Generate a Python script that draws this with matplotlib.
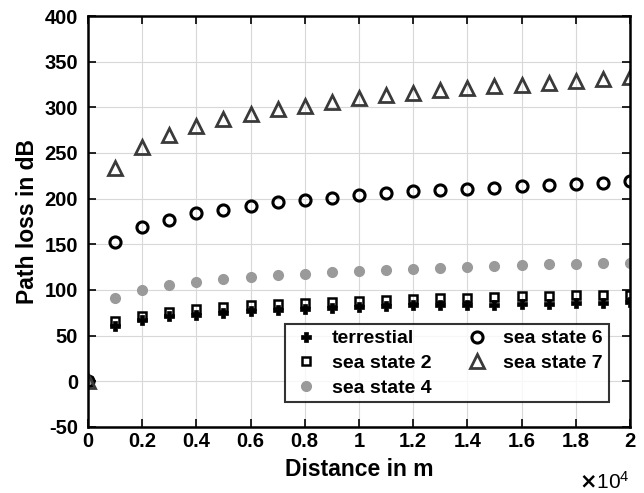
import matplotlib
matplotlib.use("Agg")
import matplotlib.pyplot as plt
from matplotlib.ticker import FuncFormatter
import numpy as np

plt.rcParams["font.family"] = ["Liberation Sans", "DejaVu Sans"]
plt.rcParams["font.weight"] = "bold"
plt.rcParams["axes.unicode_minus"] = False

distance = np.arange(0, 20001, 1000)

terrestial = [0, 61, 67, 71, 73, 75, 77, 78, 79, 80, 81, 82, 83, 83, 84, 84, 85, 85, 86, 86, 87]
sea_state_2 = [0, 66, 72, 76, 79, 81, 83, 85, 86, 87, 88, 89, 90, 91, 91, 92, 93, 93, 94, 94, 95]
sea_state_4 = [0, 91, 100, 105, 109, 112, 114, 116, 118, 120, 121, 122, 123, 124, 125, 126, 127, 128, 128, 129, 130]
sea_state_6 = [0, 153, 169, 177, 184, 188, 192, 196, 199, 201, 204, 206, 208, 209, 211, 212, 214, 215, 216, 217, 219]
sea_state_7 = [0, 234, 257, 270, 280, 287, 293, 298, 302, 306, 310, 313, 316, 319, 321, 323, 325, 327, 329, 331, 333]

fig = plt.figure(figsize=(6.44, 4.93), dpi=100)
ax = fig.add_axes([0.1366, 0.134, 0.8415, 0.8335])

ax.plot(distance, terrestial, ls="none", marker="P", ms=7.5, color="black", mec="black", mew=0.5, label="terrestial")
ax.plot(distance, sea_state_2, ls="none", marker="s", ms=6, mfc="none", mec="black", mew=1.8, label="sea state 2")
ax.plot(distance, sea_state_4, ls="none", marker="o", ms=7, color="#9a9a9a", mec="#9a9a9a", label="sea state 4")
ax.plot(distance, sea_state_6, ls="none", marker="o", ms=8, mfc="none", mec="black", mew=2.2, label="sea state 6")
ax.plot(distance, sea_state_7, ls="none", marker="^", ms=9.5, mfc="none", mec="#3a3a3a", mew=2.0, label="sea state 7")

ax.set_xlim(0, 20000)
ax.set_ylim(-50, 400)
ax.set_xticks(np.arange(0, 20001, 2000))
ax.set_yticks(np.arange(-50, 401, 50))
ax.xaxis.set_major_formatter(FuncFormatter(lambda v, p: "%g" % (v / 1e4)))
ax.grid(True, color="#d8d8d8", lw=0.8)
ax.tick_params(direction="in", top=True, right=True, length=5.5, width=1.2, labelsize=14.5)
ax.tick_params(axis="x", pad=4)
ax.tick_params(axis="y", pad=7)
for s in ax.spines.values():
    s.set_linewidth(1.8)

ax.set_xlabel("Distance in m", fontsize=16.5, fontweight="bold", labelpad=5)
ax.set_ylabel("Path loss in dB", fontsize=16.5, fontweight="bold", labelpad=4)
fig.text(0.978, 0.0, r"$\times\mathregular{10^4}$", ha="right", va="bottom", fontsize=15, fontweight="normal")

leg = ax.legend(ncol=2, loc="lower right", bbox_to_anchor=(0.979, 0.036), fontsize=14,
                frameon=True, fancybox=False, edgecolor="black", handletextpad=0.6,
                columnspacing=1.6, borderpad=0.3, labelspacing=0.36, handlelength=1.5)
leg.get_frame().set_linewidth(1.5)

fig.savefig("out.png", dpi=100)
